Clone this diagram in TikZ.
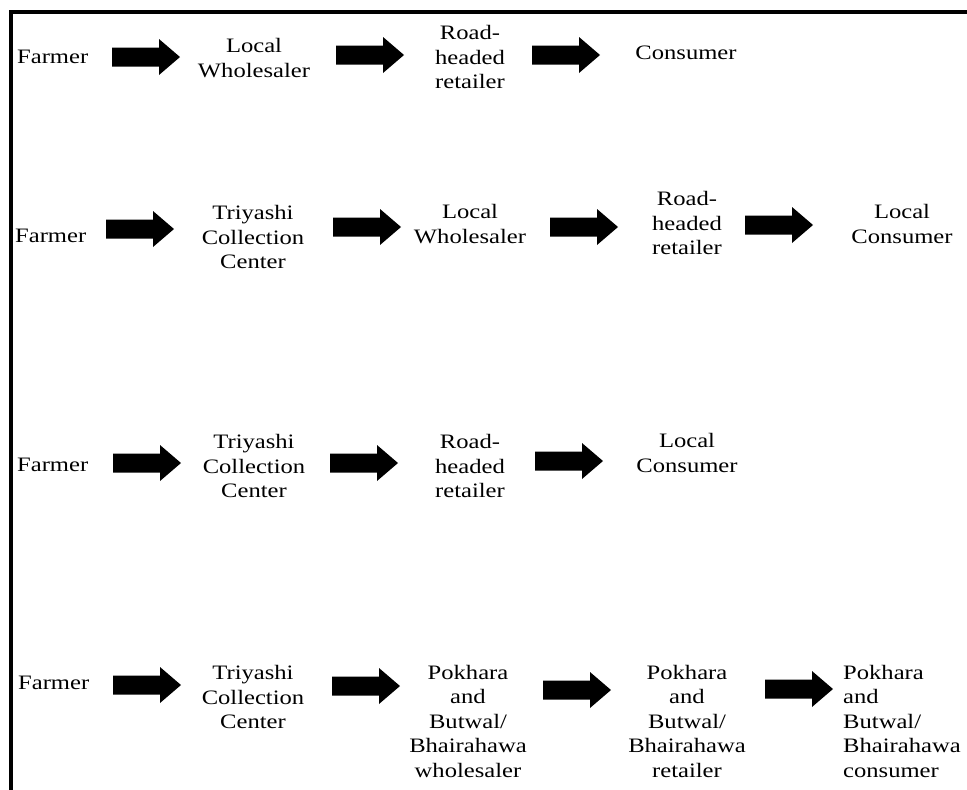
\documentclass[tikz,border=0pt]{standalone}
\usepackage{fontspec}
\setmainfont{Liberation Serif}[FakeStretch=1.2]
\begin{document}
\begin{tikzpicture}[x=1pt,y=-1pt,
  lbl/.style={inner sep=0pt,align=center,font=\fontsize{20.5}{24.5}\selectfont},
  lbll/.style={inner sep=0pt,align=left,anchor=west,font=\fontsize{20.5}{24.5}\selectfont},
  frm/.style={inner sep=0pt,anchor=west,font=\fontsize{20.5}{24.5}\selectfont},
  blk/.style={fill=black}]
\newcommand{\barrow}[3]{\coordinate (#1) at (#2,#3);
  \fill[blk] (#1) ++(0,-9.5) -- ++(47,0) -- ++(0,-8.5) -- ++(21,18) -- ++(-21,18) -- ++(0,-8.5) -- ++(-47,0) -- cycle;}
\useasboundingbox (0,0) rectangle (967,790);
\draw[line width=4.5pt] (11,792) -- (11,12) -- (969,12);
% Row 1
\node[frm] (f1) at (17,57) {Farmer};
\barrow{a11}{112}{57}
\node[lbl] (lw1) at (254,58) {Local\\Wholesaler};
\barrow{a12}{336}{55}
\node[lbl] (rr1) at (470,57) {Road-\\headed\\retailer};
\barrow{a13}{532}{55}
\node[lbl] (c1) at (686,53) {Consumer};
% Row 2
\node[frm] (f2) at (15,236) {Farmer};
\barrow{a21}{106}{229}
\node[lbl] (t2) at (253,237) {Triyashi\\Collection\\Center};
\barrow{a22}{333}{227}
\node[lbl] (lw2) at (470,224) {Local\\Wholesaler};
\barrow{a23}{550}{227}
\node[lbl] (rr2) at (687,223) {Road-\\headed\\retailer};
\barrow{a24}{745}{225}
\node[lbl] (lc2) at (902,224) {Local\\Consumer};
% Row 3
\node[frm] (f3) at (17,465) {Farmer};
\barrow{a31}{113}{463}
\node[lbl] (t3) at (254,466) {Triyashi\\Collection\\Center};
\barrow{a32}{330}{463}
\node[lbl] (rr3) at (470,466) {Road-\\headed\\retailer};
\barrow{a33}{535}{461}
\node[lbl] (lc3) at (687,453) {Local\\Consumer};
% Row 4
\node[frm] (f4) at (18,683) {Farmer};
\barrow{a41}{113}{685}
\node[lbl] (t4) at (253,697) {Triyashi\\Collection\\Center};
\barrow{a42}{332}{686}
\node[lbl] (pw4) at (468,721) {Pokhara\\and\\Butwal/\\Bhairahawa\\wholesaler};
\barrow{a43}{543}{690}
\node[lbl] (pr4) at (687,721) {Pokhara\\and\\Butwal/\\Bhairahawa\\retailer};
\barrow{a44}{765}{689}
\node[lbll] (pc4) at (843,721) {Pokhara\\and\\Butwal/\\Bhairahawa\\consumer};
\end{tikzpicture}
\end{document}
